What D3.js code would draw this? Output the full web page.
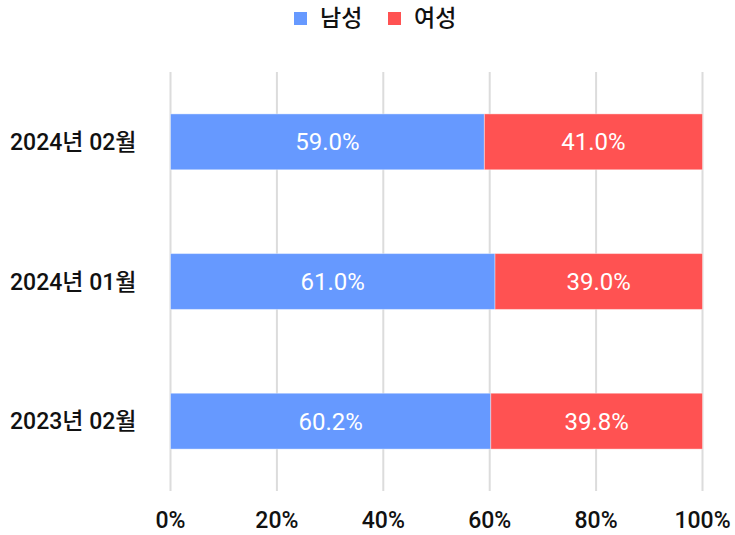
<!DOCTYPE html>
<html>
<head>
<meta charset="utf-8">
<script src="https://cdn.jsdelivr.net/npm/d3@7"></script>
<style>
  body { margin: 0; background: #fff; }
  svg { display: block; font-family: Roboto, "Noto Sans CJK KR", sans-serif; }
</style>
</head>
<body>
<svg width="735" height="535"></svg>
<script>
const categories = ['2024년 02월', '2024년 01월', '2023년 02월'];
const seriesNames = ['남성', '여성'];
const male = [59.0, 61.0, 60.2];
const female = [41.0, 39.0, 39.8];
const ticks = [0, 20, 40, 60, 80, 100];
const colors = ['#6699ff', '#ff5252'];

const svg = d3.select('svg');

const x = d3.scaleLinear().domain([0, 100]).range([170.5, 702.5]);
const y = d3.scaleBand().domain(categories).range([72, 491]).paddingInner(0.6).paddingOuter(0.3);

// gridlines
svg.append('g').selectAll('line')
    .data(ticks)
    .join('line')
    .attr('x1', d => x(d)).attr('x2', d => x(d))
    .attr('y1', 72).attr('y2', 491)
    .attr('stroke', '#dcdcdc')
    .attr('stroke-width', 2);

// tick labels
svg.append('g').selectAll('text')
    .data(ticks)
    .join('text')
    .attr('x', d => x(d))
    .attr('y', 528)
    .attr('text-anchor', 'middle')
    .attr('font-size', 23)
    .attr('font-weight', 500)
    .attr('fill', '#111')
    .text(d => d + '%');

// stacked rows
const rows = categories.map((c, i) => ({ cat: c, vals: [male[i], female[i]] }));
const stacks = rows.map(r => {
    let acc = 0;
    return r.vals.map((v, k) => {
        const s = { cat: r.cat, k, v, x0: acc, x1: acc + v };
        acc += v;
        return s;
    });
}).flat();

svg.append('g').selectAll('rect')
    .data(stacks)
    .join('rect')
    .attr('x', d => x(d.x0))
    .attr('width', d => x(d.x1) - x(d.x0))
    .attr('y', d => y(d.cat))
    .attr('height', y.bandwidth())
    .attr('fill', d => colors[d.k])
    .attr('stroke', '#fff')
    .attr('stroke-opacity', 0.4)
    .attr('stroke-width', 1);

svg.append('g').selectAll('text')
    .data(stacks)
    .join('text')
    .attr('x', d => (x(d.x0) + x(d.x1)) / 2)
    .attr('y', d => y(d.cat) + y.bandwidth() / 2)
    .attr('dy', '0.36em')
    .attr('text-anchor', 'middle')
    .attr('font-size', 24)
    .attr('fill', '#fff')
    .text(d => d.v.toFixed(1) + '%');

// category labels
svg.append('g').selectAll('text')
    .data(categories)
    .join('text')
    .attr('x', 10)
    .attr('y', d => y(d) + y.bandwidth() / 2)
    .attr('dy', '0.36em')
    .attr('font-size', 23)
    .attr('font-weight', 500)
    .attr('fill', '#111')
    .text(d => d);

// legend
const legend = svg.append('g');
const legendX = [294, 388];
seriesNames.forEach((n, i) => {
    legend.append('rect')
        .attr('x', legendX[i]).attr('y', 12)
        .attr('width', 13).attr('height', 13)
        .attr('fill', colors[i]);
    legend.append('text')
        .attr('x', legendX[i] + 26).attr('y', 18)
        .attr('dy', '0.36em')
        .attr('font-size', 23)
        .attr('font-weight', 500)
        .attr('fill', '#111')
        .text(n);
});
</script>
</body>
</html>
